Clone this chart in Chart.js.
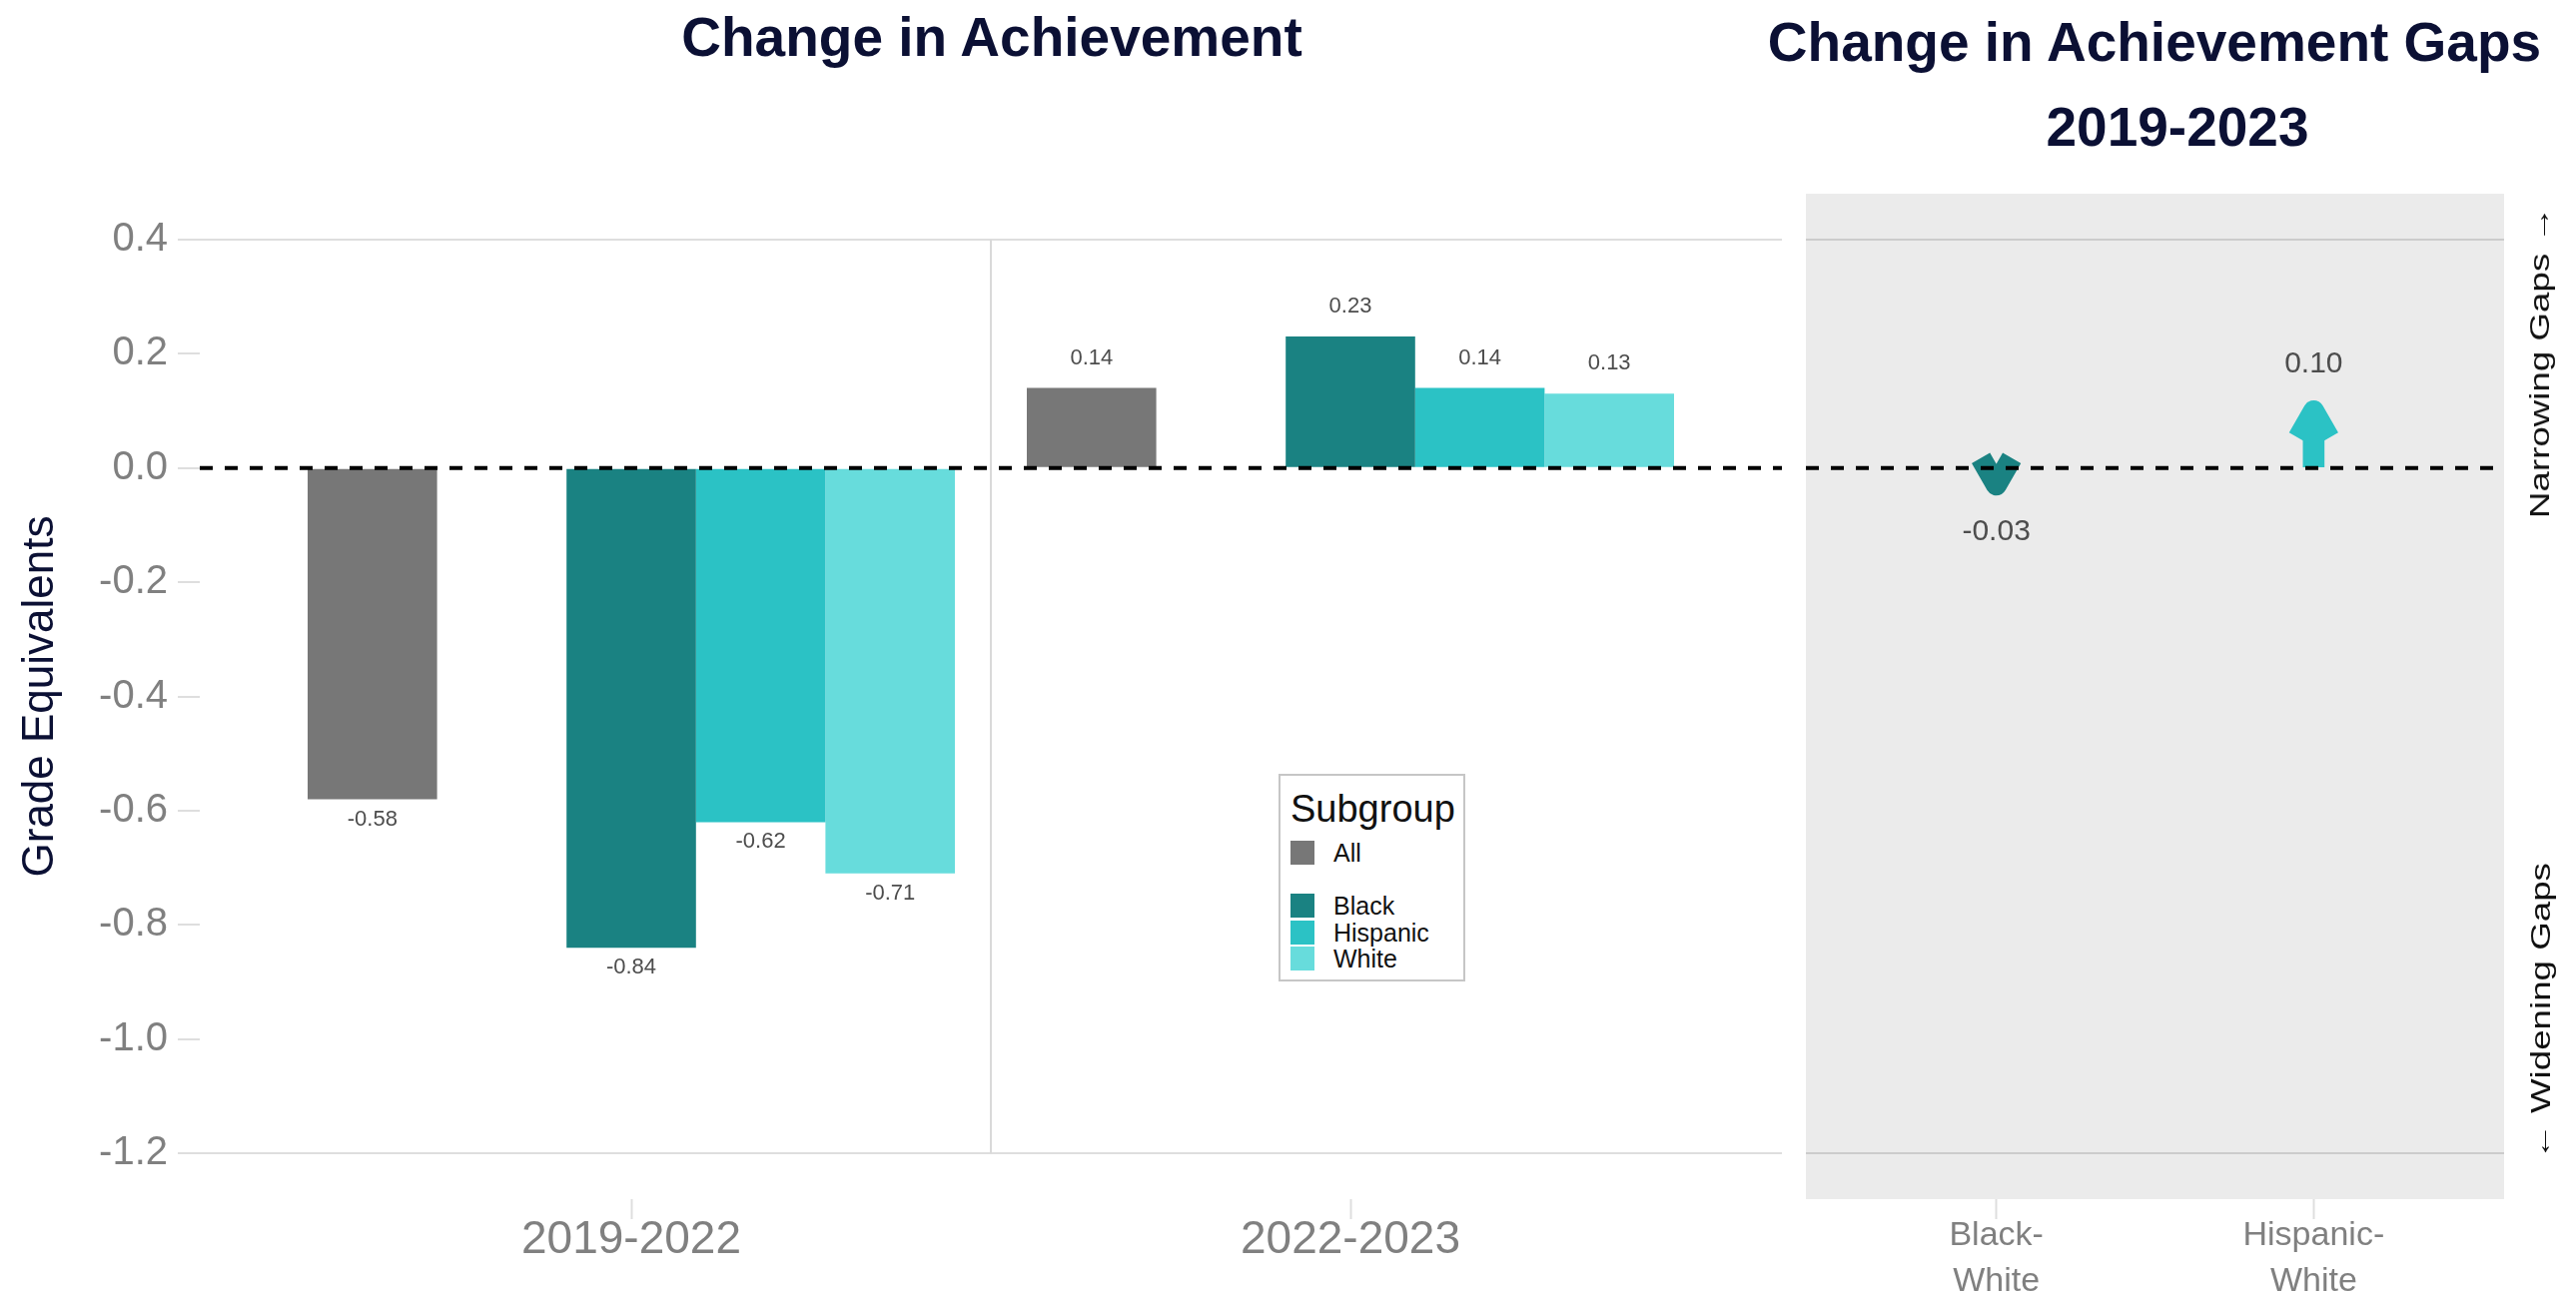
<!DOCTYPE html>
<html>
<head>
<meta charset="utf-8">
<script src="https://cdn.jsdelivr.net/npm/chart.js@4.4.0/dist/chart.umd.min.js"></script>
<style>
  html, body { margin: 0; padding: 0; background: #fff; }
  #page { position: relative; width: 2579px; height: 1294px; overflow: hidden;
          font-family: 'Liberation Sans', Arial, sans-serif; }
  canvas { position: absolute; top: 0; }
  #left { left: 0; }
  #right { left: 1800px; }
  .title { position: absolute; font-weight: bold; font-size: 55px; line-height: 55px;
           color: #0b1034; white-space: nowrap; transform: translateX(-50%); }
  .side { position: absolute; font-size: 27px; line-height: 30px; color: #111;
          white-space: nowrap; transform: translate(-50%, -50%) rotate(-90deg) scaleX(1.36); }
  #legend { position: absolute; left: 1280px; top: 775px; width: 187px; height: 208px;
            box-sizing: border-box; border: 2px solid #c6c6c6; background: #fff; }
  #legend .head { position: absolute; left: 10px; top: 14px; font-size: 38px; line-height: 38px; color: #111; }
  #legend .key { position: absolute; left: 10px; width: 24px; height: 24px; }
  #legend .lab { position: absolute; left: 53px; font-size: 25px; line-height: 26px; color: #111; }
</style>
</head>
<body>
<div id="page">
  <canvas id="left" width="1800" height="1294"></canvas>
  <canvas id="right" width="779" height="1294"></canvas>
  <div class="title" style="left:993px; top:10px;">Change in Achievement</div>
  <div class="title" style="left:2157px; top:15px;">Change in Achievement Gaps</div>
  <div class="title" style="left:2180px; top:100px;">2019-2023</div>
  <div class="side" style="left:2543px; top:363px;">Narrowing Gaps →</div>
  <div class="side" style="left:2544px; top:1013px;">← Widening Gaps</div>
  <div id="legend"><div class="head">Subgroup</div></div>
</div>
<script>
// values
const periods = ['2019-2022', '2022-2023'];
const subgroups = ['All', '', 'Black', 'Hispanic', 'White'];
const allValues = [-0.58, 0.14];
const blankValues = [null, null];
const blackValues = [-0.84, 0.23];
const hispanicValues = [-0.62, 0.14];
const whiteValues = [-0.71, 0.13];
const subgroupColors = ['#777777', 'rgba(0,0,0,0)', '#1a8282', '#2bc2c5', '#67dcdc'];

const gapPairs = ['Black-White', 'Hispanic-White'];
const gapValues = [-0.03, 0.10];
const gapColors = ['#1a8282', '#2bc2c5'];

const yTicks = [-1.2, -1.0, -0.8, -0.6, -0.4, -0.2, 0, 0.2, 0.4];
const yMin = -1.28;
const yMax = 0.48;

Chart.defaults.font.family = "'Liberation Sans', Arial, sans-serif";

// dashed line at zero, drawn over the marks
const zeroLine = {
  id: 'zeroLine',
  afterDatasetsDraw(chart) {
    const { ctx, chartArea, scales } = chart;
    const y = scales.y.getPixelForValue(0);
    ctx.save();
    ctx.strokeStyle = '#000';
    ctx.lineWidth = 4;
    ctx.setLineDash([13, 12]);
    ctx.beginPath();
    ctx.moveTo(chartArea.left, y);
    ctx.lineTo(chartArea.right, y);
    ctx.stroke();
    ctx.restore();
  }
};

const valueLabels = {
  id: 'valueLabels',
  afterDatasetsDraw(chart, args, opts) {
    const ctx = chart.ctx;
    ctx.save();
    ctx.font = opts.size + "px 'Liberation Sans', Arial, sans-serif";
    ctx.fillStyle = '#4d4d4d';
    ctx.textAlign = 'center';
    ctx.textBaseline = 'middle';
    chart.data.datasets.forEach((ds, di) => {
      chart.getDatasetMeta(di).data.forEach((bar, i) => {
        const v = ds.data[i];
        if (v === null || v === undefined) return;
        const y = v >= 0 ? bar.y - opts.above : bar.y + opts.below;
        ctx.fillText(v.toFixed(2), bar.x, y);
      });
    });
    ctx.restore();
  }
};

// thin vertical rule between the two periods
const divider = {
  id: 'divider',
  beforeDatasetsDraw(chart) {
    const { ctx, scales } = chart;
    const x = scales.x.getPixelForValue((1 + periods.length) / 2);
    ctx.save();
    ctx.strokeStyle = '#d9d9d9';
    ctx.lineWidth = 2;
    ctx.beginPath();
    ctx.moveTo(x, scales.y.getPixelForValue(yTicks[yTicks.length - 1]));
    ctx.lineTo(x, scales.y.getPixelForValue(yTicks[0]));
    ctx.stroke();
    ctx.restore();
  }
};

const panelBg = {
  id: 'panelBg',
  beforeDraw(chart) {
    const { ctx, chartArea: a } = chart;
    ctx.save();
    ctx.fillStyle = '#ebebeb';
    ctx.fillRect(a.left, a.top, a.right - a.left, a.bottom - a.top);
    ctx.restore();
  }
};

// open arrow heads on top of the shaft bars
const arrowHeads = {
  id: 'arrowHeads',
  afterDatasetsDraw(chart) {
    const ctx = chart.ctx;
    const ds = chart.data.datasets[0];
    ctx.save();
    ctx.lineWidth = 21;
    ctx.lineJoin = 'round';
    ctx.lineCap = 'butt';
    chart.getDatasetMeta(0).data.forEach((bar, i) => {
      const dir = ds.data[i] >= 0 ? 1 : -1;
      ctx.strokeStyle = ds.backgroundColor[i];
      ctx.beginPath();
      ctx.moveTo(bar.x - 15.5, bar.y + dir * 27);
      ctx.lineTo(bar.x, bar.y);
      ctx.lineTo(bar.x + 15.5, bar.y + dir * 27);
      ctx.stroke();
    });
    ctx.restore();
  }
};

function yScale(showLabels) {
  return {
    min: yMin,
    max: yMax,
    afterBuildTicks: s => { s.ticks = yTicks.map(v => ({ value: v })); },
    afterFit: s => { s.width = showLabels ? 200 : 0; },
    border: { display: false },
    grid: {
      color: c => (c.index === 0 || c.index === yTicks.length - 1) ? (showLabels ? '#dedede' : '#cccccc') : 'rgba(0,0,0,0)',
      lineWidth: 2,
      drawTicks: showLabels,
      tickColor: '#dedede',
      tickLength: 22,
      tickWidth: 2
    },
    ticks: {
      display: showLabels,
      autoSkip: false,
      font: { size: 40 },
      color: '#808080',
      padding: 10,
      callback: v => v.toFixed(1)
    },
    title: {
      display: showLabels,
      text: 'Grade Equivalents',
      color: '#0b1034',
      font: { size: 44 },
      padding: { top: 14, bottom: 0 }
    }
  };
}

function xScale(names, size, lineHeight, pad, fmt) {
  return {
    type: 'linear',
    min: 0.4,
    max: names.length + 0.6,
    offset: false,
    afterBuildTicks: s => { s.ticks = names.map((n, i) => ({ value: i + 1 })); },
    afterFit: s => { s.height = 93; },
    border: { display: false },
    grid: { drawOnChartArea: false, offset: false, tickLength: 20, tickWidth: 2, tickColor: '#dedede', color: '#dedede' },
    ticks: {
      font: { size: size, lineHeight: lineHeight },
      color: '#808080',
      padding: pad,
      maxRotation: 0,
      autoSkip: false,
      callback: v => (names[v - 1] !== undefined ? fmt(names[v - 1]) : '')
    }
  };
}

const seriesValues = [allValues, blankValues, blackValues, hispanicValues, whiteValues];

new Chart(document.getElementById('left'), {
  type: 'bar',
  data: {
    labels: periods.map((p, i) => i + 1),
    datasets: subgroups.map((name, i) => ({
      label: name,
      data: seriesValues[i],
      backgroundColor: subgroupColors[i],
      borderWidth: 0,
      categoryPercentage: 0.9,
      barPercentage: 1
    }))
  },
  options: {
    responsive: false,
    animation: false,
    events: [],
    layout: { padding: { top: 194, right: 16, left: 0, bottom: 0 } },
    plugins: {
      legend: { display: false },
      tooltip: { enabled: false },
      valueLabels: { size: 22, above: 30, below: 20 }
    },
    scales: {
      x: xScale(periods, 46, 1, -2, n => n),
      y: yScale(true)
    }
  },
  plugins: [divider, zeroLine, valueLabels]
});

new Chart(document.getElementById('right'), {
  type: 'bar',
  data: {
    labels: gapPairs.map((p, i) => i + 1),
    datasets: [{
      label: 'Gap change',
      data: gapValues,
      backgroundColor: gapColors,
      borderWidth: 0,
      barThickness: 21
    }]
  },
  options: {
    responsive: false,
    animation: false,
    events: [],
    layout: { padding: { top: 194, right: 72, left: 8, bottom: 0 } },
    plugins: {
      legend: { display: false },
      tooltip: { enabled: false },
      valueLabels: { size: 30, above: 47, below: 47 }
    },
    scales: {
      x: xScale(gapPairs, 34, 1.35, -6, n => { const p = n.split('-'); return [p[0] + '-', p[1]]; }),
      y: yScale(false)
    }
  },
  plugins: [panelBg, arrowHeads, zeroLine, valueLabels]
});

// legend built from the subgroup arrays
const legend = document.getElementById('legend');
subgroups.forEach((name, i) => {
  if (!name) return;
  const cy = 854 + i * 26.5 - 777;
  const key = document.createElement('div');
  key.className = 'key';
  key.style.top = (cy - 12) + 'px';
  key.style.background = subgroupColors[i];
  legend.appendChild(key);
  const lab = document.createElement('div');
  lab.className = 'lab';
  lab.style.top = (cy - 13) + 'px';
  lab.textContent = name;
  legend.appendChild(lab);
});
</script>
</body>
</html>
